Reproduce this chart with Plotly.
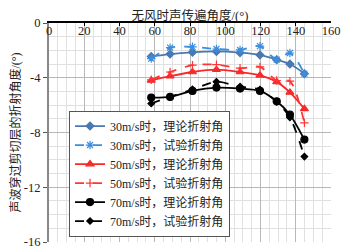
import plotly.graph_objects as go

angles = [58, 68.7, 81.4, 95, 108.4, 119.7, 129.2, 136.7, 144.9]
v30_theory = [-2.45, -2.27, -2.14, -2.08, -2.17, -2.33, -2.68, -3.0, -3.7]
v30_test = [-2.6, -1.8, -1.74, -1.9, -1.97, -1.69, -2.68, -2.19, -3.7]
v50_theory = [-4.2, -3.89, -3.58, -3.41, -3.58, -3.82, -4.3, -5.07, -6.27]
v50_test = [-4.15, -3.58, -3.08, -3.04, -3.3, -3.21, -4.2, -4.25, -7.3]
v70_theory = [-5.45, -5.4, -4.96, -4.72, -4.79, -4.96, -5.72, -6.7, -8.52]
v70_test = [-5.88, -5.4, -4.85, -4.3, -4.65, -4.87, -5.76, -6.9, -9.76]

names = ["30m/s时，理论折射角", "30m/s时，试验折射角",
         "50m/s时，理论折射角", "50m/s时，试验折射角",
         "70m/s时，理论折射角", "70m/s时，试验折射角"]

x_ticks = [0, 20, 40, 60, 80, 100, 120, 140, 160]
y_ticks = [0, -4, -8, -12, -16]

FONT = "'Liberation Serif', 'Times New Roman', 'Noto Sans CJK SC'"

styles = [
    (v30_theory, "#4a78b0", "solid", "diamond", 6),
    (v30_test, "#3a8ee0", "dash", "asterisk-open", 7),
    (v50_theory, "#f52a2a", "solid", "triangle-up", 7),
    (v50_test, "#ff3535", "dash", "cross-thin-open", 6),
    (v70_theory, "#000000", "solid", "circle", 7),
    (v70_test, "#000000", "dash", "diamond", 5),
]

fig = go.Figure()
for (vals, col, dash, sym, size), name in zip(styles, names):
    fig.add_trace(go.Scatter(
        x=angles, y=vals, name=name, mode="lines+markers",
        line=dict(color=col, width=1.8, dash=dash, shape="spline", smoothing=0.8),
        marker=dict(symbol=sym, size=size, color=col,
                    line=dict(color=col, width=1.2)),
    ))

# page body has an 8px default margin, so the figure is offset by 8px
fig.update_layout(
    width=341, height=244,
    margin=dict(l=41, r=18, t=15, b=10, autoexpand=False),
    paper_bgcolor="white", plot_bgcolor="white",
    font=dict(family=FONT, size=12.5, color="#222"),
    showlegend=True,
    legend=dict(x=0.071, y=0.025, xanchor="left", yanchor="bottom",
                bgcolor="white", bordercolor="#555", borderwidth=1,
                font=dict(family=FONT, size=12, color="#222"),
                tracegroupgap=0, itemwidth=30),
    xaxis=dict(
        range=[0, 160], side="top", tickmode="array", tickvals=x_ticks,
        ticktext=[str(v) for v in x_ticks],
        ticks="inside", ticklen=3, tickcolor="#000",
        ticklabelposition="inside", ticklabeloverflow="allow",
        showticklabels=True,
        showline=True, linecolor="#000", linewidth=1.5,
        showgrid=True, gridcolor="#b8b8b8", gridwidth=1,
        minor=dict(dtick=5, showgrid=True, gridcolor="#e0e0e0", gridwidth=1),
        zeroline=False, automargin=False,
        title=dict(text="无风时声传遍角度/(°)",
                   font=dict(family=FONT, size=12.5)),
        tickfont=dict(family=FONT, size=12.5, color="#222"),
    ),
    yaxis=dict(
        range=[-16, 0], tickmode="array", tickvals=y_ticks,
        ticktext=[str(v) for v in y_ticks],
        ticks="outside", ticklen=4, tickcolor="#555",
        ticklabeloverflow="allow",
        showline=True, linecolor="#888", linewidth=2,
        showgrid=True, gridcolor="#b8b8b8", gridwidth=1,
        minor=dict(dtick=1, showgrid=True, gridcolor="#e0e0e0", gridwidth=1),
        zeroline=False, automargin=False,
        title=dict(text="声波穿过剪切层的折射角度/(°)", standoff=8,
                   font=dict(family=FONT, size=12)),
        tickfont=dict(family=FONT, size=12.5),
    ),
)

fig.write_html("out.html")
